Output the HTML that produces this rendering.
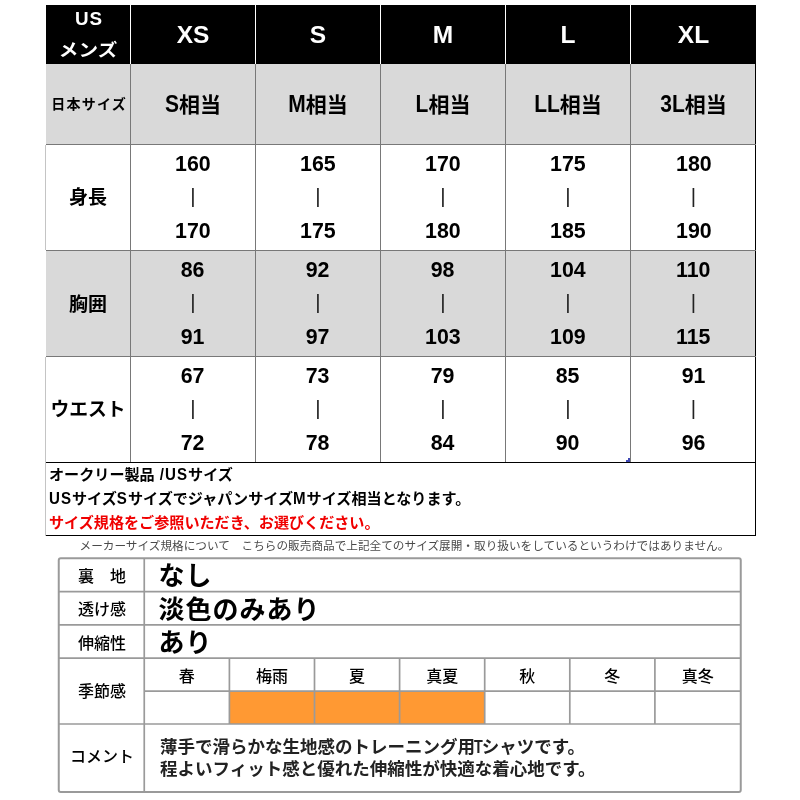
<!DOCTYPE html>
<html lang="ja"><head><meta charset="utf-8"><title>サイズ表</title><style>
html,body{margin:0;padding:0;background:#fff;}
body{width:800px;height:800px;position:relative;overflow:hidden;font-family:"Liberation Sans","Noto Sans CJK JP",sans-serif;color:#000;}
.a{position:absolute;}
.c{position:absolute;display:flex;align-items:center;justify-content:center;white-space:nowrap;font-weight:bold;}
.l{position:absolute;white-space:nowrap;}
.bar{font-weight:normal;font-size:20.5px;position:relative;top:-1.9px;color:#222;}
.w{letter-spacing:1px;display:inline-block;line-height:normal;transform:scaleY(1.14);transform-origin:50% 80%;}
.n{display:inline-block;transform:scaleX(0.945);}
.k{display:inline-block;transform:scaleY(1.12);transform-origin:50% 81%;}
.c>span{display:block;text-align:center;}
</style></head><body>
<div class="a" style="left:46px;top:5px;width:710px;height:59px;background:#000"></div>
<div class="a" style="left:46px;top:64px;width:710px;height:80px;background:#d9d9d9"></div>
<div class="a" style="left:46px;top:250px;width:710px;height:106px;background:#d9d9d9"></div>
<div class="a" style="left:130px;top:5px;width:1px;height:59px;background:#fff"></div>
<div class="a" style="left:255px;top:5px;width:1px;height:59px;background:#fff"></div>
<div class="a" style="left:380px;top:5px;width:1px;height:59px;background:#fff"></div>
<div class="a" style="left:505px;top:5px;width:1px;height:59px;background:#fff"></div>
<div class="a" style="left:630px;top:5px;width:1px;height:59px;background:#fff"></div>
<div class="a" style="left:130px;top:64px;width:1px;height:398px;background:#787878"></div>
<div class="a" style="left:255px;top:64px;width:1px;height:398px;background:#787878"></div>
<div class="a" style="left:380px;top:64px;width:1px;height:398px;background:#787878"></div>
<div class="a" style="left:505px;top:64px;width:1px;height:398px;background:#787878"></div>
<div class="a" style="left:630px;top:64px;width:1px;height:398px;background:#787878"></div>
<div class="a" style="left:755px;top:64px;width:1px;height:472px;background:#000"></div>
<div class="a" style="left:45px;top:145px;width:1px;height:105px;background:#c4c4c4"></div>
<div class="a" style="left:45px;top:357px;width:1px;height:179px;background:#c4c4c4"></div>
<div class="a" style="left:46px;top:144px;width:710px;height:1px;background:#787878"></div>
<div class="a" style="left:46px;top:250px;width:710px;height:1px;background:#787878"></div>
<div class="a" style="left:46px;top:356px;width:710px;height:1px;background:#787878"></div>
<div class="a" style="left:46px;top:462px;width:710px;height:1px;background:#000"></div>
<div class="a" style="left:46px;top:535px;width:710px;height:1px;background:#000"></div>
<div class="a" style="left:628px;top:458px;width:2px;height:2px;background:#3f48b5"></div>
<div class="a" style="left:626px;top:460px;width:4px;height:2px;background:#3f48b5"></div>
<div class="c" style="left:46px;top:5px;width:85px;height:59px;color:#fff;font-size:17.5px;line-height:31.5px;text-align:center;"><span><span style="font-size:18.8px;letter-spacing:1px;margin-right:-1px">US</span><br><span style="display:inline-block;transform:scaleX(1.12)">メンズ</span></span></div>
<div class="c" style="left:131px;top:5.6px;width:124px;height:59px;color:#fff;font-size:24.5px;"><span>XS</span></div>
<div class="c" style="left:131px;top:63.2px;width:124px;height:79px;font-size:21px;"><span><span class="k">S</span>相当</span></div>
<div class="c" style="left:131px;top:145px;width:124px;height:105px;font-size:22.6px;line-height:33.9px;text-align:center;"><span><span class="n">160</span><br><span class="bar">|</span><br><span class="n">170</span></span></div>
<div class="c" style="left:131px;top:251px;width:124px;height:105px;font-size:22.6px;line-height:33.9px;text-align:center;"><span><span class="n">86</span><br><span class="bar">|</span><br><span class="n">91</span></span></div>
<div class="c" style="left:131px;top:357px;width:124px;height:105px;font-size:22.6px;line-height:33.9px;text-align:center;"><span><span class="n">67</span><br><span class="bar">|</span><br><span class="n">72</span></span></div>
<div class="c" style="left:256px;top:5.6px;width:124px;height:59px;color:#fff;font-size:24.5px;"><span>S</span></div>
<div class="c" style="left:256px;top:63.2px;width:124px;height:79px;font-size:21px;"><span><span class="k">M</span>相当</span></div>
<div class="c" style="left:256px;top:145px;width:124px;height:105px;font-size:22.6px;line-height:33.9px;text-align:center;"><span><span class="n">165</span><br><span class="bar">|</span><br><span class="n">175</span></span></div>
<div class="c" style="left:256px;top:251px;width:124px;height:105px;font-size:22.6px;line-height:33.9px;text-align:center;"><span><span class="n">92</span><br><span class="bar">|</span><br><span class="n">97</span></span></div>
<div class="c" style="left:256px;top:357px;width:124px;height:105px;font-size:22.6px;line-height:33.9px;text-align:center;"><span><span class="n">73</span><br><span class="bar">|</span><br><span class="n">78</span></span></div>
<div class="c" style="left:381px;top:5.6px;width:124px;height:59px;color:#fff;font-size:24.5px;"><span>M</span></div>
<div class="c" style="left:381px;top:63.2px;width:124px;height:79px;font-size:21px;"><span><span class="k">L</span>相当</span></div>
<div class="c" style="left:381px;top:145px;width:124px;height:105px;font-size:22.6px;line-height:33.9px;text-align:center;"><span><span class="n">170</span><br><span class="bar">|</span><br><span class="n">180</span></span></div>
<div class="c" style="left:381px;top:251px;width:124px;height:105px;font-size:22.6px;line-height:33.9px;text-align:center;"><span><span class="n">98</span><br><span class="bar">|</span><br><span class="n">103</span></span></div>
<div class="c" style="left:381px;top:357px;width:124px;height:105px;font-size:22.6px;line-height:33.9px;text-align:center;"><span><span class="n">79</span><br><span class="bar">|</span><br><span class="n">84</span></span></div>
<div class="c" style="left:506px;top:5.6px;width:124px;height:59px;color:#fff;font-size:24.5px;"><span>L</span></div>
<div class="c" style="left:506px;top:63.2px;width:124px;height:79px;font-size:21px;"><span><span class="k">LL</span>相当</span></div>
<div class="c" style="left:506px;top:145px;width:124px;height:105px;font-size:22.6px;line-height:33.9px;text-align:center;"><span><span class="n">175</span><br><span class="bar">|</span><br><span class="n">185</span></span></div>
<div class="c" style="left:506px;top:251px;width:124px;height:105px;font-size:22.6px;line-height:33.9px;text-align:center;"><span><span class="n">104</span><br><span class="bar">|</span><br><span class="n">109</span></span></div>
<div class="c" style="left:506px;top:357px;width:124px;height:105px;font-size:22.6px;line-height:33.9px;text-align:center;"><span><span class="n">85</span><br><span class="bar">|</span><br><span class="n">90</span></span></div>
<div class="c" style="left:631px;top:5.6px;width:125px;height:59px;color:#fff;font-size:24.5px;"><span>XL</span></div>
<div class="c" style="left:631px;top:63.2px;width:125px;height:79px;font-size:21px;"><span><span class="k">3L</span>相当</span></div>
<div class="c" style="left:631px;top:145px;width:125px;height:105px;font-size:22.6px;line-height:33.9px;text-align:center;"><span><span class="n">180</span><br><span class="bar">|</span><br><span class="n">190</span></span></div>
<div class="c" style="left:631px;top:251px;width:125px;height:105px;font-size:22.6px;line-height:33.9px;text-align:center;"><span><span class="n">110</span><br><span class="bar">|</span><br><span class="n">115</span></span></div>
<div class="c" style="left:631px;top:357px;width:125px;height:105px;font-size:22.6px;line-height:33.9px;text-align:center;"><span><span class="n">91</span><br><span class="bar">|</span><br><span class="n">96</span></span></div>
<div class="c" style="left:46px;top:63.7px;width:85px;height:79px;font-size:14px;letter-spacing:1.2px;text-indent:1.2px;"><span>日本サイズ</span></div>
<div class="c" style="left:46px;top:143px;width:84px;height:105px;font-size:19px;"><span>身長</span></div>
<div class="c" style="left:46px;top:249.8px;width:84px;height:105px;font-size:19px;"><span>胸囲</span></div>
<div class="c" style="left:46px;top:354.5px;width:84px;height:105px;font-size:18.8px;"><span>ウエスト</span></div>
<div class="l" style="left:49px;top:463.1px;font-size:15.1px;font-weight:bold;line-height:23.5px;">オークリー製品<span class="w" style="white-space:pre"> /US</span>サイズ</div>
<div class="l" style="left:49px;top:487.3px;font-size:15.1px;font-weight:bold;line-height:23.5px;"><span class="w">US</span>サイズ<span class="w">S</span>サイズでジャパンサイズ<span class="w">M</span>サイズ相当となります。</div>
<div class="l" style="left:49px;top:510.8px;font-size:15.1px;font-weight:bold;line-height:23.5px;color:#f00000">サイズ規格をご参照いただき、お選びください。</div>
<div class="l" style="left:79.5px;top:537px;font-size:11.65px;line-height:17px;color:#4a4a4a;">メーカーサイズ規格について　こちらの販売商品で上記全てのサイズ展開・取り扱いをしているというわけではありません。</div>
<svg class="a" style="left:0;top:0" width="800" height="800" viewBox="0 0 800 800" fill="none"><rect x="229.4" y="691.1" width="255.3" height="32.9" fill="#ff9933"/><rect x="58.75" y="558.2" width="682.0" height="233.79999999999995" rx="2" stroke="#9a9a9a" stroke-width="2"/><line x1="58.75" x2="740.75" y1="591.6" y2="591.6" stroke="#9a9a9a" stroke-width="1.7"/><line x1="58.75" x2="740.75" y1="624.9" y2="624.9" stroke="#9a9a9a" stroke-width="1.7"/><line x1="58.75" x2="740.75" y1="658.2" y2="658.2" stroke="#9a9a9a" stroke-width="1.7"/><line x1="58.75" x2="740.75" y1="724" y2="724" stroke="#9a9a9a" stroke-width="1.7"/><line x1="144.25" x2="740.75" y1="691.1" y2="691.1" stroke="#9a9a9a" stroke-width="1.7"/><line x1="144.25" x2="144.25" y1="558.2" y2="792.0" stroke="#9a9a9a" stroke-width="1.7"/><line x1="229.4" x2="229.4" y1="658.2" y2="724" stroke="#9a9a9a" stroke-width="1.7"/><line x1="314.5" x2="314.5" y1="658.2" y2="724" stroke="#9a9a9a" stroke-width="1.7"/><line x1="399.6" x2="399.6" y1="658.2" y2="724" stroke="#9a9a9a" stroke-width="1.7"/><line x1="484.7" x2="484.7" y1="658.2" y2="724" stroke="#9a9a9a" stroke-width="1.7"/><line x1="569.8" x2="569.8" y1="658.2" y2="724" stroke="#9a9a9a" stroke-width="1.7"/><line x1="654.9" x2="654.9" y1="658.2" y2="724" stroke="#9a9a9a" stroke-width="1.7"/></svg>
<div class="c" style="left:60px;top:558.2px;width:84px;height:33.39999999999998px;font-weight:500;font-size:16px;"><span>裏　地</span></div>
<div class="c" style="left:158.5px;top:557.2px;width:400px;height:33.39999999999998px;font-size:26px;letter-spacing:1px;justify-content:flex-start;"><span>なし</span></div>
<div class="c" style="left:60px;top:591.6px;width:84px;height:33.299999999999955px;font-weight:500;font-size:16px;"><span>透け感</span></div>
<div class="c" style="left:158.5px;top:590.6px;width:400px;height:33.299999999999955px;font-size:26px;letter-spacing:1px;justify-content:flex-start;"><span>淡色のみあり</span></div>
<div class="c" style="left:60px;top:624.9px;width:84px;height:33.30000000000007px;font-weight:500;font-size:16px;"><span>伸縮性</span></div>
<div class="c" style="left:158.5px;top:623.9px;width:400px;height:33.30000000000007px;font-size:26px;letter-spacing:1px;justify-content:flex-start;"><span>あり</span></div>
<div class="c" style="left:60px;top:657.2px;width:84px;height:65.79999999999995px;font-weight:500;font-size:16px;"><span>季節感</span></div>
<div class="c" style="left:60px;top:720.6px;width:84px;height:68.0px;font-weight:500;font-size:16px;"><span>コメント</span></div>
<div class="c" style="left:144.25px;top:658.2px;width:85.15px;height:32.89999999999998px;font-weight:500;font-size:16px;"><span>春</span></div>
<div class="c" style="left:229.4px;top:658.2px;width:85.1px;height:32.89999999999998px;font-weight:500;font-size:16px;"><span>梅雨</span></div>
<div class="c" style="left:314.5px;top:658.2px;width:85.10000000000002px;height:32.89999999999998px;font-weight:500;font-size:16px;"><span>夏</span></div>
<div class="c" style="left:399.6px;top:658.2px;width:85.09999999999997px;height:32.89999999999998px;font-weight:500;font-size:16px;"><span>真夏</span></div>
<div class="c" style="left:484.7px;top:658.2px;width:85.09999999999997px;height:32.89999999999998px;font-weight:500;font-size:16px;"><span>秋</span></div>
<div class="c" style="left:569.8px;top:658.2px;width:85.10000000000002px;height:32.89999999999998px;font-weight:500;font-size:16px;"><span>冬</span></div>
<div class="c" style="left:654.9px;top:658.2px;width:85.85000000000002px;height:32.89999999999998px;font-weight:500;font-size:16px;"><span>真冬</span></div>
<div class="l" style="left:160px;top:736px;font-size:17.5px;font-weight:bold;line-height:22px;color:#222;">薄手で滑らかな生地感のトレーニング用<span style="display:inline-block;transform:scaleX(0.82);margin:0 -2px">T</span>シャツです。<br>程よいフィット感と優れた伸縮性が快適な着心地です。</div>
</body></html>
